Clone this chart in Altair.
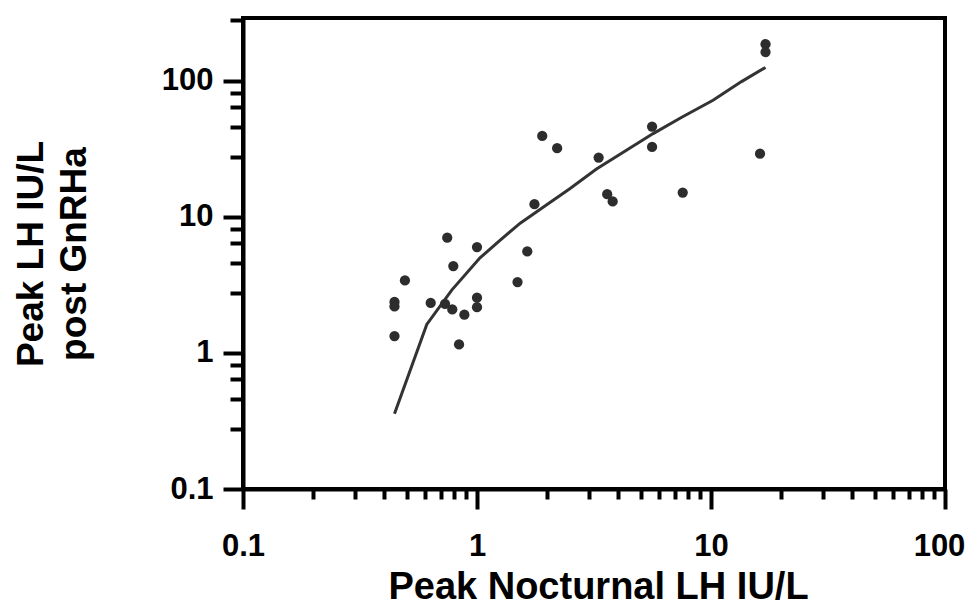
import altair as alt
import pandas as pd

# Scatter data: peak nocturnal LH (x) vs peak LH post GnRHa (y)
nocturnal_lh = [0.444, 0.444, 0.444, 0.492, 0.634, 0.730, 0.784, 0.746, 0.792, 0.838,
                0.883, 1.00, 1.00, 1.00, 1.49, 1.64, 1.76, 1.90, 2.20, 3.31,
                5.60, 5.60, 3.60, 3.80, 7.57, 16.2, 17.1, 17.1]
post_gnrha = [2.37, 2.20, 1.33, 3.41, 2.33, 2.30, 2.09, 7.04, 4.35, 1.155,
              1.91, 6.0, 2.55, 2.17, 3.32, 5.58, 12.4, 39.4, 32.0, 27.3,
              46.2, 32.7, 14.7, 13.0, 15.1, 29.2, 186, 163]

# Fitted curve
fit_x = [0.444, 0.61, 0.78, 1.03, 1.25, 1.53, 2.0, 2.5, 3.24, 4.3, 5.66, 7.5, 10.2, 13.5, 17.1]
fit_y = [0.357, 1.62, 2.9, 5.0, 6.7, 9.0, 12.4, 16.2, 22.5, 30.5, 41.0, 54.0, 72.0, 98.8, 125.6]

# Axis ticks
x_ticks = [0.1, 0.2, 0.3, 0.4, 0.5, 0.6, 0.7, 0.8, 0.9,
           1, 2, 3, 4, 5, 6, 7, 8, 9,
           10, 20, 30, 40, 50, 60, 70, 80, 90, 100]
y_ticks = [0.1, 0.277, 0.457, 0.641, 0.812,
           1, 2.77, 4.57, 6.41, 8.12,
           10, 27.7, 45.7, 64.1, 81.2,
           100, 281]

x_title = "Peak Nocturnal LH IU/L"
y_title = ["Peak LH IU/L", "post GnRHa"]

pts = pd.DataFrame({"x": nocturnal_lh, "y": post_gnrha})
fit = pd.DataFrame({"x": fit_x, "y": fit_y, "order": list(range(len(fit_x)))})

is_major = "abs(log(datum.value)/LN10 - round(log(datum.value)/LN10)) < 0.001"

W, H = 702, 471
xscale = alt.Scale(type="log", domain=[0.1, 100], nice=False)
yscale = alt.Scale(type="log", domain=[0.1, 290], nice=False)

common_axis = dict(
    grid=False,
    domainColor="black", domainWidth=4,
    tickColor="black", tickWidth=4,
    labelFont="Liberation Sans", labelFontWeight="bold", labelFontSize=31, labelColor="black",
    labelOverlap=False, labelFlush=False, labelBound=False,
    titleFont="Liberation Sans", titleFontWeight="bold", titleColor="black",
    labelExpr=f"{is_major} ? format(datum.value, '~g') : ''",
)

xaxis = alt.Axis(
    values=x_ticks,
    tickSize={"condition": {"test": is_major, "value": 20}, "value": 10},
    labelOffset={"condition": {"test": "datum.value > 50", "value": -6}, "value": 0},
    labelPadding=22,
    title=x_title, titleFontSize=38,
    titleX=W / 2 + 4, titleY=109, titleBaseline="alphabetic", titleAlign="center",
    **common_axis,
)
yaxis = alt.Axis(
    values=y_ticks,
    tickSize={"condition": {"test": is_major, "value": 20}, "value": 13},
    labelPadding=10,
    title=y_title, titleFontSize=37,
    titleX=-201, titleY=H / 2, titleBaseline="alphabetic", titleAlign="center",
    titleAngle=270, titleLineHeight=43,
    **common_axis,
)

line = alt.Chart(fit).mark_line(color="#333333", strokeWidth=3).encode(
    x=alt.X("x:Q", scale=xscale, axis=xaxis),
    y=alt.Y("y:Q", scale=yscale, axis=yaxis),
    order="order:Q",
)
dots = alt.Chart(pts).mark_circle(color="#2d2d2d", opacity=1, size=105).encode(
    x=alt.X("x:Q", scale=xscale),
    y=alt.Y("y:Q", scale=yscale),
)

chart = (
    alt.layer(line, dots)
    .properties(
        width=W, height=H,
        autosize=alt.AutoSizeParams(type="none"),
        padding={"left": 235, "top": 10, "right": 21, "bottom": 117},
        background="white",
    )
    .configure_view(stroke="black", strokeWidth=4)
)

chart.save("out.html", embed_options={"renderer": "svg", "actions": False})
